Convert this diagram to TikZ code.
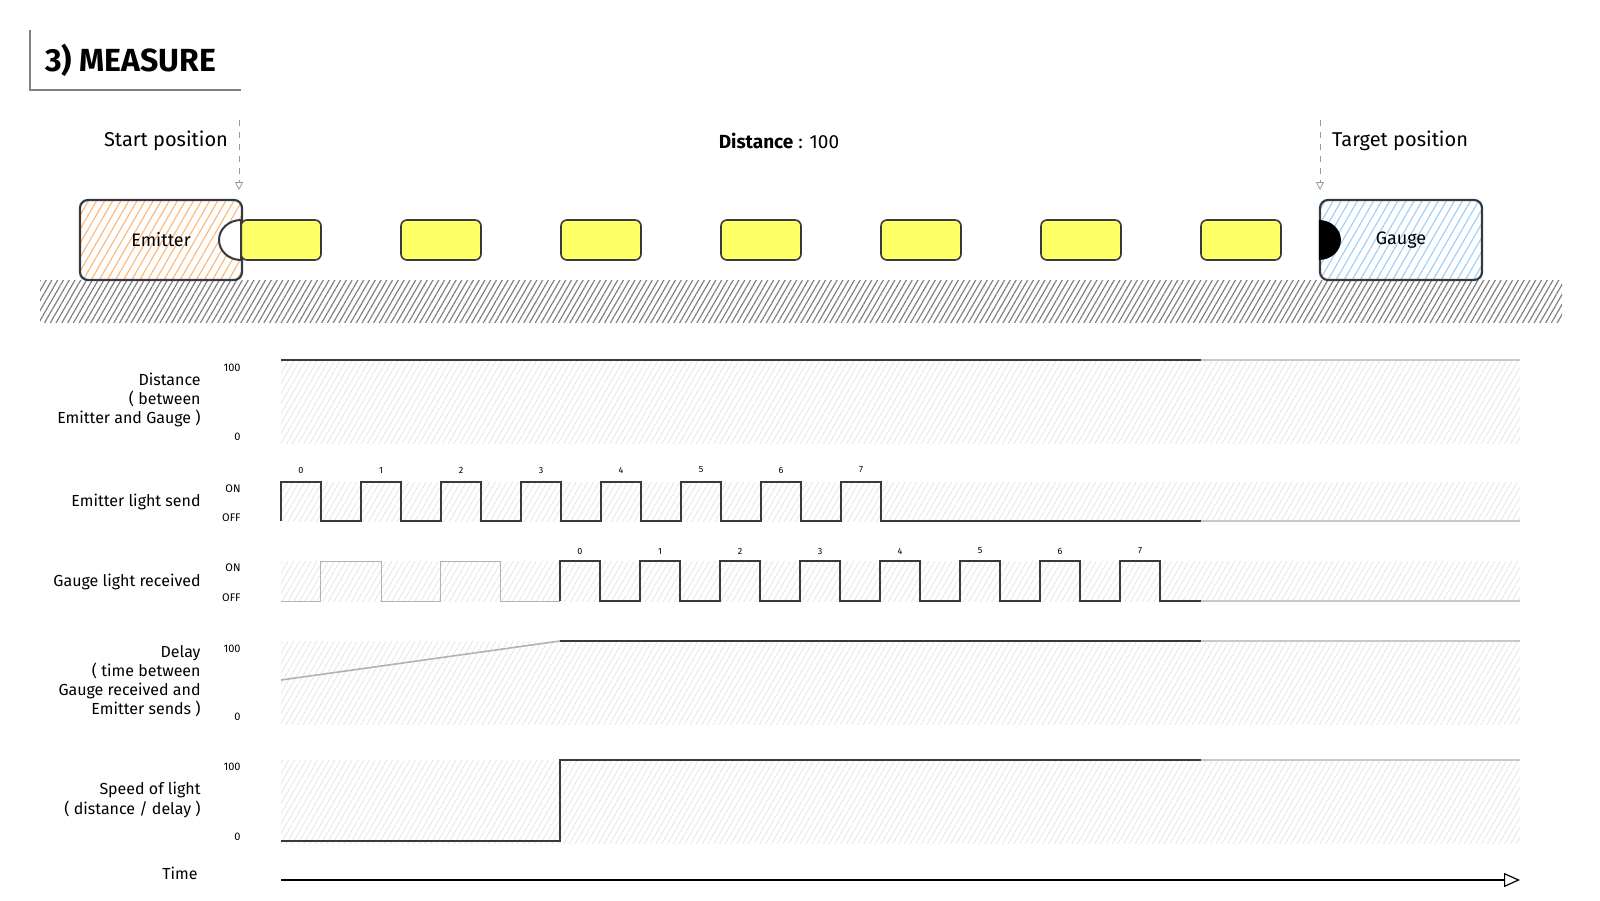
\documentclass[tikz,border=0pt]{standalone}
\usepackage{fontspec}
\setmainfont{Fira Sans}
\usetikzlibrary{positioning,patterns.meta,arrows.meta}
\definecolor{ink}{HTML}{343A40}
\definecolor{emitcol}{HTML}{FFB97A}
\definecolor{gaugecol}{HTML}{A5D0F5}
\definecolor{lampcol}{HTML}{FFFF66}
\definecolor{faint}{HTML}{C8C8C8}
\begin{document}
\begin{tikzpicture}[
        x = 0.5pt, y = -0.5pt,
        node distance = {40pt},
        lbl/.style = {font=\fontsize{8}{9.6}\selectfont, anchor=east, align=right, inner sep=0pt},
        tick/.style = {font=\fontsize{5.5}{6}\selectfont, anchor=east, inner sep=0pt},
        num/.style = {font=\fontsize{4.5}{5}\selectfont, inner sep=0pt},
        box/.style = {draw=ink, line width=1.1pt, rounded corners=4pt, minimum width=81pt, minimum height=40pt, font=\fontsize{9}{10}\selectfont},
        lamp/.style = {draw=ink, line width=0.8pt, fill=lampcol, rounded corners=3pt, minimum width=40pt, minimum height=20pt, outer sep=0pt},
        band/.style = {pattern={Lines[angle=60,distance=2.5pt,line width=0.3pt]}, pattern color=black!13},
        sig/.style = {draw=ink, line width=1.4pt},
        rest/.style = {draw=faint, line width=1.1pt},
        ghost/.style = {draw=black!30, line width=0.5pt},
        hint/.style = {draw=black!40, dashed, line width=0.4pt, -{Triangle[open,length=4pt,width=4pt]}}
    ]
    \useasboundingbox (0,0) rectangle (1600,900);
    %--- Draw Title ---%
        \node (title) [anchor=west, font=\fontsize{16}{17}\selectfont\bfseries] at (38,60) {3) MEASURE};
        \draw[black!50, line width=1pt] (30,30) -- (30,90) -- (241,90);
    %--- Draw Track ---%
        \path[pattern={Lines[angle=60,distance=2.5pt,line width=0.6pt]}, pattern color=black!50] (40,280) rectangle (1562,322);
        \node (emitter) [box, pattern={Lines[angle=60,distance=3.5pt,line width=0.6pt]}, pattern color=emitcol] at (161,240) {Emitter};
        \node (gauge) [box, pattern={Lines[angle=60,distance=3.5pt,line width=0.6pt]}, pattern color=gaugecol] at (1401,240) {Gauge};
        \node (l1) [lamp] at (281,240) {};
        \node (l2) [lamp, right=of l1] {};
        \node (l3) [lamp, right=of l2] {};
        \node (l4) [lamp, right=of l3] {};
        \node (l5) [lamp, right=of l4] {};
        \node (l6) [lamp, right=of l5] {};
        \node (l7) [lamp, right=of l6] {};
        \draw[sig, line width=1pt, fill=white] (l1.north west) arc[start angle=90, end angle=270, x radius=11pt, y radius=10pt] -- cycle;
        \fill[black] (gauge.west |- l1.north) arc[start angle=90, end angle=-90, x radius=11pt, y radius=10pt] -- cycle;
    %--- Draw Positions ---%
        \node (startlbl) [anchor=east, font=\fontsize{10}{11}\selectfont] at (235,141) {Start position};
        \node (targetlbl) [anchor=west, font=\fontsize{10}{11}\selectfont] at (1325,141) {Target position};
        \node (distance) [font=\fontsize{9.5}{11}\selectfont] at (779,141) {\textbf{Distance} : 100};
        \coordinate (s0) at (239,120);
        \coordinate (s1) at (239,190);
        \coordinate (g0) at (1320,120);
        \coordinate (g1) at (1320,190);
        \draw[hint] (s0) -- (s1);
        \draw[hint] (g0) -- (g1);
    %--- Draw Bands ---%
        \path[band] (281,360) rectangle (1520,443);
        \path[band] (281,482) rectangle (1520,521);
        \path[band] (281,561) rectangle (1520,601);
        \path[band] (281,641) rectangle (1520,724);
        \path[band] (281,760) rectangle (1520,843);
    %--- Draw Labels ---%
        \node (distlbl) [lbl] at (201,400) {Distance\\( between\\Emitter and Gauge )};
        \node (emitlbl) [lbl] at (201,502) {Emitter light send};
        \node (gaugelbl) [lbl] at (201,582) {Gauge light received};
        \node (delaylbl) [lbl] at (201,681) {Delay\\( time between\\Gauge received and\\Emitter sends )};
        \node (speedlbl) [lbl] at (201,800) {Speed of light\\( distance / delay )};
        \node (timelbl) [lbl] at (198,873) {Time};
        \node [tick] at (241,368) {100};
        \node [tick] at (241,437) {0};
        \node [tick] at (241,489) {ON};
        \node [tick] at (241,518) {OFF};
        \node [tick] at (241,568) {ON};
        \node [tick] at (241,598) {OFF};
        \node [tick] at (241,649) {100};
        \node [tick] at (241,717) {0};
        \node [tick] at (241,767) {100};
        \node [tick] at (241,837) {0};
    %--- Draw Signals ---%
        \draw[sig] (281,360) -- (1201,360);
        \draw[sig] (281,521) \foreach \k in {0,...,7} { -- ({281+80*\k},482) -- ({321+80*\k},482) -- ({321+80*\k},521) -- ({361+80*\k},521) } -- (1201,521);
        \foreach \k in {0,...,7} \node (e\k) [num] at ({301+80*\k},470) {\k};
        \draw[ghost] (281,601) -- (320,601) -- (320,561) -- (381,561) -- (381,601) -- (440,601) -- (440,561) -- (500,561) -- (500,601) -- (560,601);
        \draw[sig] (560,601) \foreach \k in {0,...,7} { -- ({560+80*\k},561) -- ({600+80*\k},561) -- ({600+80*\k},601) -- ({640+80*\k},601) } -- (1201,601);
        \foreach \k in {0,...,7} \node (r\k) [num] at ({580+80*\k},551) {\k};
        \draw[ghost, line width=0.8pt] (281,680) -- (560,641);
        \draw[sig] (560,641) -- (1201,641);
        \draw[sig] (281,841) -- (560,841) -- (560,760) -- (1201,760);
        \draw[rest] (1201,360) -- (1520,360);
        \draw[rest] (1201,521) -- (1520,521);
        \draw[rest] (1201,601) -- (1520,601);
        \draw[rest] (1201,641) -- (1520,641);
        \draw[rest] (1201,760) -- (1520,760);
    %--- Draw Time ---%
        \coordinate (t0) at (281,880);
        \coordinate (t1) at (1520,880);
        \draw[line width=0.6pt, -{Triangle[open,length=8pt,width=7pt]}] (t0) -- (t1);
\end{tikzpicture}
\end{document}
